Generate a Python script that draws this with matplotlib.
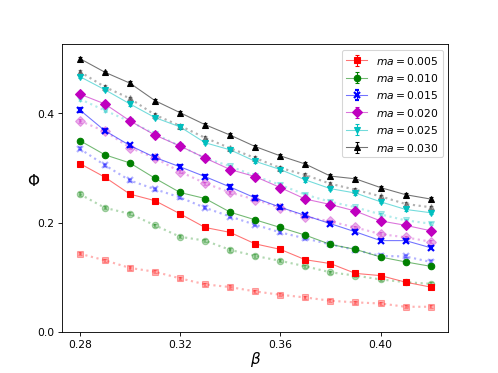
import numpy as np
import matplotlib
matplotlib.use("Agg")
import matplotlib.pyplot as plt

beta = [0.28, 0.29, 0.30, 0.31, 0.32, 0.33, 0.34, 0.35, 0.36, 0.37, 0.38, 0.39, 0.40, 0.41, 0.42]
labels = ["0.005", "0.010", "0.015", "0.020", "0.025", "0.030"]

# main (solid) series
phi_005 = [0.308, 0.283, 0.252, 0.240, 0.216, 0.191, 0.182, 0.161, 0.151, 0.132, 0.125, 0.107, 0.103, 0.091, 0.082]
phi_010 = [0.350, 0.324, 0.309, 0.281, 0.255, 0.244, 0.219, 0.205, 0.191, 0.177, 0.160, 0.151, 0.137, 0.128, 0.120]
phi_015 = [0.406, 0.368, 0.341, 0.319, 0.302, 0.284, 0.265, 0.245, 0.228, 0.213, 0.198, 0.183, 0.167, 0.167, 0.154]
phi_020 = [0.435, 0.417, 0.386, 0.360, 0.340, 0.318, 0.297, 0.284, 0.264, 0.243, 0.233, 0.221, 0.203, 0.195, 0.185]
phi_025 = [0.467, 0.443, 0.417, 0.392, 0.375, 0.346, 0.333, 0.312, 0.297, 0.278, 0.262, 0.254, 0.238, 0.224, 0.218]
phi_030 = [0.500, 0.475, 0.455, 0.423, 0.401, 0.379, 0.360, 0.339, 0.322, 0.307, 0.285, 0.280, 0.264, 0.251, 0.243]

# faded (dotted) series
ref_005 = [0.143, 0.131, 0.117, 0.110, 0.098, 0.087, 0.082, 0.074, 0.068, 0.063, 0.057, 0.054, 0.052, 0.046, 0.046]
ref_010 = [0.252, 0.227, 0.216, 0.195, 0.174, 0.167, 0.150, 0.139, 0.130, 0.120, 0.109, 0.103, 0.096, 0.091, 0.088]
ref_015 = [0.335, 0.305, 0.277, 0.261, 0.246, 0.227, 0.211, 0.196, 0.182, 0.171, 0.160, 0.150, 0.139, 0.138, 0.128]
ref_020 = [0.386, 0.367, 0.337, 0.318, 0.293, 0.272, 0.255, 0.242, 0.227, 0.211, 0.202, 0.191, 0.179, 0.173, 0.165]
ref_025 = [0.426, 0.405, 0.385, 0.362, 0.340, 0.318, 0.303, 0.285, 0.269, 0.251, 0.238, 0.228, 0.215, 0.204, 0.198]
ref_030 = [0.476, 0.448, 0.427, 0.397, 0.377, 0.355, 0.336, 0.318, 0.300, 0.287, 0.271, 0.260, 0.248, 0.234, 0.228]

err = 0.003

main_series = [phi_005, phi_010, phi_015, phi_020, phi_025, phi_030]
ref_series = [ref_005, ref_010, ref_015, ref_020, ref_025, ref_030]
colors = ["r", "g", "b", "m", "c", "k"]
markers = ["s", "o", "x", "D", "v", "^"]


def main():
    fig, ax = plt.subplots(figsize=(6.4, 4.8), dpi=498 / 6.4)

    # faded reference curves
    for ys, c, mk in zip(ref_series, colors, markers):
        ax.errorbar(beta, ys, yerr=err, fmt=":" + mk, color=c, alpha=0.3,
                    lw=2, ms=6, mew=2 if mk == "x" else 1, capsize=2)

    for ys, c, mk, lab in zip(main_series, colors, markers, labels):
        line_col = matplotlib.colors.to_rgba(c, 0.55)
        ax.errorbar(beta, ys, yerr=err, fmt="-" + mk, color=line_col, mfc=c, mec=c,
                    ecolor=c, lw=1, ms=6, mew=2 if mk == "x" else 1, capsize=2,
                    label=r"$ma = %s$" % lab)

    ax.set_xticks([0.28, 0.32, 0.36, 0.40])
    ax.set_yticks([0.0, 0.2, 0.4])
    ax.set_ylim(bottom=0)
    ax.set_xlabel(r"$\beta$", fontsize=14, labelpad=0)
    ax.set_ylabel(r"$\Phi$", fontsize=14, rotation=0, labelpad=4)
    ax.legend(loc="upper right")
    fig.savefig("out.png")


if __name__ == "__main__":
    main()
